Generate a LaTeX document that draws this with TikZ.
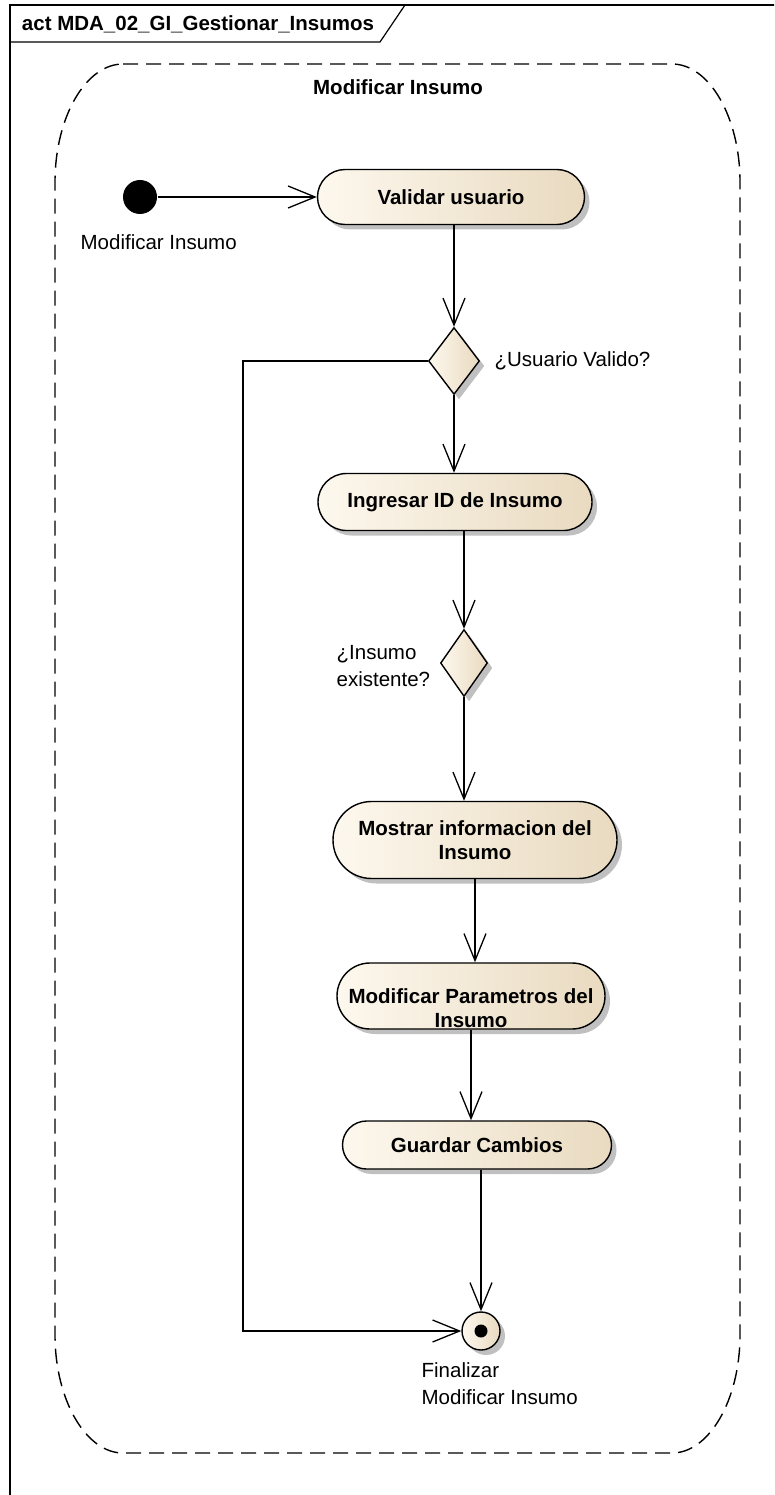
\documentclass[tikz,border=0pt]{standalone}
\usepackage{fontspec}
\setmainfont{Liberation Sans}
\usetikzlibrary{positioning,arrows.meta,calc,shapes.geometric,shapes.misc,shadows}

\definecolor{actL}{RGB}{253,248,238}
\definecolor{actR}{RGB}{233,218,192}
\definecolor{shd}{RGB}{192,192,192}

\begin{document}
\begin{tikzpicture}[x=1pt, y=-1pt, line width=1.3pt,
  >={Straight Barb[length=27pt,width=22pt]},
  font=\fontsize{20.5}{27}\selectfont,
  shdw/.style={drop shadow={shadow xshift=5pt, shadow yshift=-5pt, fill=shd, opacity=1}},
  act/.style={rounded rectangle, draw, line width=1.4pt, shdw,
    left color=actL, right color=actR, inner sep=0pt, align=center,
    font=\bfseries\fontsize{20.5}{24}\selectfont},
  dec/.style={diamond, draw, line width=1.4pt, shdw, inner sep=0pt,
    left color=actL, right color=actR},
  lbl/.style={align=left, inner sep=0pt}]
  \useasboundingbox (0,0) rectangle (774,1495);
  \clip (0,0) rectangle (774,1495);

  % marco del diagrama
  \draw[line width=1.2pt] (10,5) rectangle (800,1520);
  \draw[line width=1.2pt] (10,42) -- (380,42) -- (405,5);
  \node[anchor=west, font=\bfseries\fontsize{20.5}{24}\selectfont] (titulo) at (18,24) {act MDA\_02\_GI\_Gestionar\_Insumos};

  % region
  \draw[line width=1.4pt, dash pattern=on 15pt off 8pt]
    (123,64) -- (672,64) .. controls (709,64) and (740,117) .. (740,182)
    -- (740,1335) .. controls (740,1400) and (709,1453) .. (672,1453)
    -- (123,1453) .. controls (86,1453) and (55,1400) .. (55,1335)
    -- (55,182) .. controls (55,117) and (86,64) .. (123,64);
  \node[font=\bfseries\fontsize{20.5}{24}\selectfont] (region) at (398,87) {Modificar Insumo};

  % nodos
  \node[circle, fill=black, minimum size=34pt, inner sep=0pt] (init) at (140,197) {};
  \node[lbl, anchor=west] (initlbl) at (80,242) {Modificar Insumo};

  \node[act, minimum width=267pt, minimum height=55pt] (valid) at (451,197) {Validar usuario};
  \node[dec, minimum width=51pt, minimum height=67pt] (dec1) at (454,361) {};
  \node[lbl, anchor=west] (dec1lbl) at (494,361) {¿Usuario Valido?};

  \node[act, minimum width=274pt, minimum height=57pt] (ingresar) at (455,502) {Ingresar ID de Insumo};
  \node[dec, minimum width=47pt, minimum height=67pt] (dec2) at (464,663) {};
  \node[lbl, anchor=west] (dec2lbl) at (336,666) {¿Insumo\\existente?};

  \node[act, minimum width=284pt, minimum height=77pt] (mostrar) at (475,840) {Mostrar informacion del\\Insumo};
  \node[act, minimum width=268pt, minimum height=66pt,
    label={[align=center, font=\bfseries\fontsize{20.5}{24}\selectfont, yshift=-12pt]center:Modificar Parametros del\\Insumo}] (modif) at (471,996) {};
  \node[act, minimum width=269pt, minimum height=48pt] (guardar) at (477,1145) {Guardar Cambios};

  \node[circle, draw, line width=1.4pt, shdw, left color=actL, right color=actR,
    minimum size=38pt, inner sep=0pt] (final) at (481,1331) {};
  \node[circle, fill=black, minimum size=13pt, inner sep=0pt] (finaldot) at (final.center) {};
  \node[lbl, anchor=north west] (finallbl) at (421,1362) {Finalizar\\Modificar Insumo};

  % flujos
  \coordinate (loop) at (243,1331);
  \draw[->] (init) -- (valid);
  \draw[->] (valid.south -| dec1.north) -- (dec1.north);
  \draw[->] (dec1.south) -- (dec1.south |- ingresar.north);
  \draw[->] (ingresar.south -| dec2.north) -- (dec2.north);
  \draw[->] (dec2.south) -- (dec2.south |- mostrar.north);
  \draw[->] (mostrar.south) -- (mostrar.south |- modif.north);
  \draw[->] (modif.south) -- (modif.south |- guardar.north);
  \draw[->] (guardar.south -| final.north) -- (final.north);
  \draw[->] (dec1.west) -| (loop) -- (final.west);
\end{tikzpicture}
\end{document}
